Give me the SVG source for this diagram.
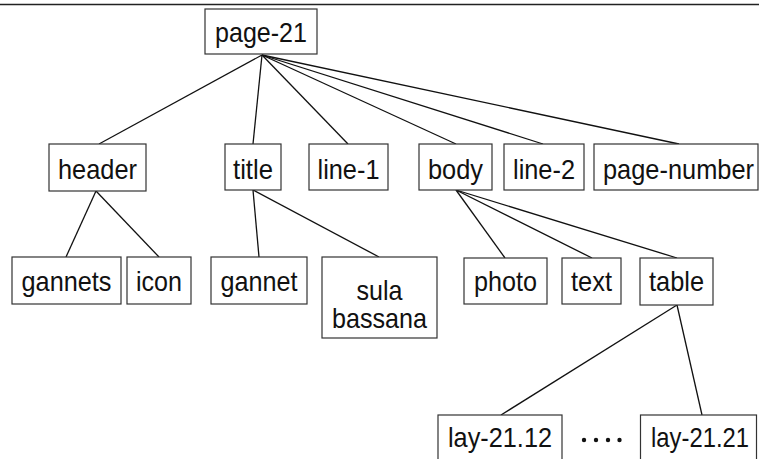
<svg xmlns="http://www.w3.org/2000/svg" width="759" height="459" viewBox="0 0 759 459">
<style>
.box{fill:#fff;stroke:#333;stroke-width:1.2}
.lbl{font-family:"Liberation Sans",Arial,sans-serif;font-size:28px;fill:#111;text-anchor:middle}
.edge{stroke:#111;stroke-width:1.3;fill:none}
</style>
<rect width="759" height="459" fill="#fff"/>
<line x1="0" y1="4.5" x2="759" y2="4.5" stroke="#222" stroke-width="1.6"/>
<g id="connectors">
<line class="edge" x1="262" y1="55" x2="99" y2="144"/>
<line class="edge" x1="262" y1="55" x2="253" y2="144"/>
<line class="edge" x1="262" y1="55" x2="348" y2="144"/>
<line class="edge" x1="262" y1="55" x2="456" y2="144"/>
<line class="edge" x1="262" y1="55" x2="543" y2="144"/>
<line class="edge" x1="262" y1="55" x2="679" y2="144"/>
<line class="edge" x1="96" y1="191" x2="66" y2="257"/>
<line class="edge" x1="96" y1="191" x2="159" y2="257"/>
<line class="edge" x1="253" y1="190" x2="259" y2="257"/>
<line class="edge" x1="253" y1="190" x2="379" y2="257"/>
<line class="edge" x1="456" y1="190" x2="505" y2="258"/>
<line class="edge" x1="456" y1="190" x2="592" y2="258"/>
<line class="edge" x1="456" y1="190" x2="677" y2="258"/>
<line class="edge" x1="677" y1="305" x2="501" y2="415"/>
<line class="edge" x1="677" y1="305" x2="702" y2="415"/>
</g>
<g id="page-21"><rect class="box" x="205" y="9" width="112" height="45"/><text class="lbl" x="261" y="41.5" textLength="92" lengthAdjust="spacingAndGlyphs">page-21</text></g>
<g id="header"><rect class="box" x="49" y="144" width="97" height="47"/><text class="lbl" x="97.5" y="178.5" textLength="79" lengthAdjust="spacingAndGlyphs">header</text></g>
<g id="title"><rect class="box" x="225" y="144" width="56" height="46"/><text class="lbl" x="253" y="178.5" textLength="40" lengthAdjust="spacingAndGlyphs">title</text></g>
<g id="line-1"><rect class="box" x="309" y="144" width="79" height="46"/><text class="lbl" x="348.5" y="178.5" textLength="62" lengthAdjust="spacingAndGlyphs">line-1</text></g>
<g id="body"><rect class="box" x="419" y="144" width="73" height="46"/><text class="lbl" x="455.5" y="178.5" textLength="55" lengthAdjust="spacingAndGlyphs">body</text></g>
<g id="line-2"><rect class="box" x="504" y="144" width="80" height="46"/><text class="lbl" x="544" y="178.5" textLength="62" lengthAdjust="spacingAndGlyphs">line-2</text></g>
<g id="page-number"><rect class="box" x="594" y="144" width="164" height="46"/><text class="lbl" x="678.5" y="178.5" textLength="151" lengthAdjust="spacingAndGlyphs">page-number</text></g>
<g id="gannets"><rect class="box" x="12" y="257" width="109" height="47"/><text class="lbl" x="66.5" y="291" textLength="90" lengthAdjust="spacingAndGlyphs">gannets</text></g>
<g id="icon"><rect class="box" x="127" y="257" width="64" height="47"/><text class="lbl" x="159" y="291" textLength="46" lengthAdjust="spacingAndGlyphs">icon</text></g>
<g id="gannet"><rect class="box" x="211" y="257" width="96" height="47"/><text class="lbl" x="259" y="291" textLength="77" lengthAdjust="spacingAndGlyphs">gannet</text></g>
<g id="sula-bassana"><rect class="box" x="322" y="257" width="115" height="81"/><text class="lbl" x="379.5" y="300" textLength="46" lengthAdjust="spacingAndGlyphs">sula</text><text class="lbl" x="379.5" y="328" textLength="95" lengthAdjust="spacingAndGlyphs">bassana</text></g>
<g id="photo"><rect class="box" x="464" y="258" width="83" height="46"/><text class="lbl" x="505.5" y="291" textLength="63" lengthAdjust="spacingAndGlyphs">photo</text></g>
<g id="text"><rect class="box" x="562" y="258" width="59" height="46"/><text class="lbl" x="591.5" y="291" textLength="41" lengthAdjust="spacingAndGlyphs">text</text></g>
<g id="table"><rect class="box" x="640" y="258" width="73" height="47"/><text class="lbl" x="676.5" y="291" textLength="55" lengthAdjust="spacingAndGlyphs">table</text></g>
<g id="lay-21.12"><rect class="box" x="438" y="415" width="124" height="60"/><text class="lbl" x="500" y="447" textLength="104" lengthAdjust="spacingAndGlyphs">lay-21.12</text></g>
<g id="ellipsis"><circle cx="584" cy="440" r="2.2" fill="#111"/><circle cx="596" cy="440" r="2.2" fill="#111"/><circle cx="608" cy="440" r="2.2" fill="#111"/><circle cx="619.5" cy="440" r="2.2" fill="#111"/></g>
<g id="lay-21.21"><rect class="box" x="640.5" y="415" width="116" height="60"/><text class="lbl" x="700" y="447" textLength="98" lengthAdjust="spacingAndGlyphs">lay-21.21</text></g>
</svg>
